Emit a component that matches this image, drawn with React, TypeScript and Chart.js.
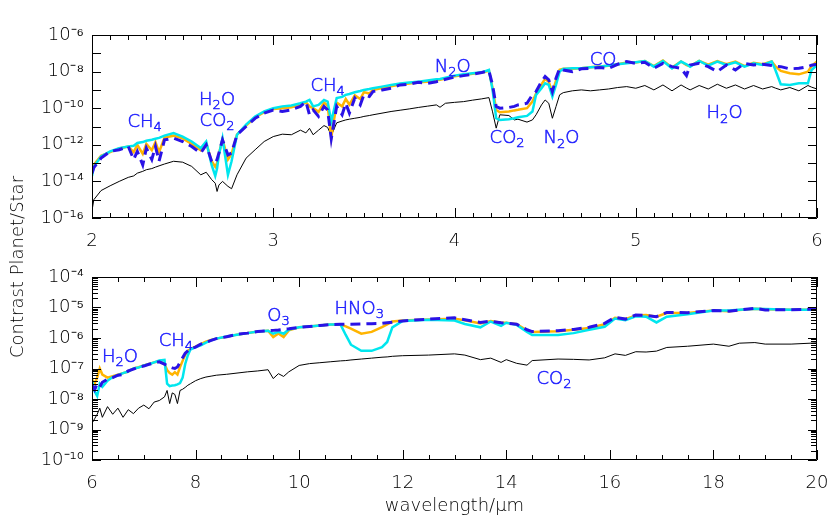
import React, { useEffect, useRef } from "react";
import { Chart, registerables } from "chart.js";

Chart.register(...registerables);

const FONT_FAMILY = "'DejaVu Sans', 'Liberation Sans', Arial, sans-serif";
const FONT_WEIGHT = "200";
const BLACK = "#000000";
const ORANGE = "#FFB400";
const CYAN = "#00E6EE";
const BLUE = "#2A12E6";
const NOTE_BLUE = "#2020FF";

// ---------------- top panel: 2–6 µm (values are log10 of contrast) ----------------
const topWavelength = [
  2.0, 2.01, 2.05, 2.1, 2.15, 2.2, 2.23, 2.25, 2.28, 2.3,
  2.33, 2.35, 2.37, 2.4, 2.45, 2.5, 2.55, 2.6, 2.63, 2.66,
  2.68, 2.69, 2.7, 2.72, 2.75, 2.77, 2.8, 2.85, 2.9, 2.95,
  3.0, 3.05, 3.1, 3.15, 3.18, 3.2, 3.22, 3.25, 3.28, 3.3,
  3.32, 3.35, 3.38, 3.4, 3.42, 3.45, 3.48, 3.5, 3.53, 3.55,
  3.6, 3.65, 3.7, 3.75, 3.8, 3.85, 3.9, 3.92, 3.95, 4.0,
  4.05, 4.1, 4.15, 4.19, 4.21, 4.23, 4.25, 4.3, 4.33, 4.35,
  4.4, 4.43, 4.45, 4.48, 4.5, 4.52, 4.54, 4.56, 4.58, 4.6,
  4.65, 4.7, 4.75, 4.8, 4.85, 4.9, 4.95, 5.0, 5.05, 5.1,
  5.15, 5.2, 5.25, 5.28, 5.3, 5.35, 5.4, 5.45, 5.5, 5.55,
  5.6, 5.65, 5.7, 5.75, 5.77, 5.8, 5.85, 5.9, 5.95, 5.97,
  6.0,
];
const topBlackLog = [
  -15.6, -15.0, -14.5, -14.24, -14.0, -13.78, -13.7, -13.55, -13.45, -13.36,
  -13.3, -13.22, -13.15, -13.05, -12.9, -12.95, -13.18, -13.64, -13.5, -13.9,
  -14.1, -14.55, -14.2, -14.0, -14.27, -14.4, -13.64, -12.73, -12.27, -11.82,
  -11.55, -11.42, -11.45, -11.2, -11.35, -11.1, -11.45, -11.2, -10.95, -11.05,
  -11.5, -10.8, -10.7, -10.64, -10.6, -10.55, -10.5, -10.45, -10.4, -10.36,
  -10.27, -10.18, -10.11, -10.04, -9.96, -9.89, -9.82, -9.95, -9.73, -9.68,
  -9.64, -9.56, -9.49, -9.42, -10.2, -11.09, -10.36, -10.4, -10.64, -10.6,
  -10.76, -10.64, -10.36, -9.82, -9.55, -9.73, -10.55, -9.91, -9.27, -9.15,
  -9.05, -9.0, -9.05, -9.0, -8.95, -8.87, -8.82, -8.91, -8.76, -9.0,
  -8.73, -9.05, -8.73, -8.9, -9.0, -8.76, -8.95, -8.69, -8.91, -8.73,
  -8.95, -8.76, -8.95, -8.82, -8.9, -9.0, -8.87, -9.05, -8.76, -8.85,
  -8.95,
];
const topCyanLog = [
  -13.7, -13.2, -12.64, -12.36, -12.18, -12.09, -12.05, -11.9, -11.85, -11.78,
  -11.72, -11.67, -11.62, -11.5, -11.36, -11.55, -11.82, -12.18, -11.82, -13.1,
  -13.7, -13.3, -12.55, -11.64, -13.64, -12.9, -11.45, -10.9, -10.45, -10.18,
  -10.0, -9.9, -9.85, -9.73, -9.64, -9.55, -9.9, -9.82, -9.55, -9.64,
  -10.73, -9.45, -9.38, -9.27, -9.22, -9.13, -9.06, -9.0, -8.95, -8.91,
  -8.82, -8.73, -8.65, -8.6, -8.55, -8.49, -8.42, -8.4, -8.33, -8.22,
  -8.15, -8.09, -8.04, -7.91, -9.0, -10.55, -10.64, -10.6, -10.55, -10.5,
  -10.42, -10.18, -9.27, -8.91, -8.64, -8.73, -9.36, -8.73, -8.0, -7.85,
  -7.82, -7.82, -7.76, -7.73, -7.67, -7.6, -7.55, -7.49, -7.42, -7.73,
  -7.42, -7.82, -7.45, -7.6, -7.73, -7.42, -7.67, -7.45, -7.64, -7.49,
  -7.73, -7.55, -7.64, -7.45, -7.9, -8.69, -8.73, -8.64, -8.64, -7.91,
  -7.64,
];
const topOrangeLog = [
  -13.5, -13.1, -12.6, -12.4, -12.2, -12.1, -12.4, -12.0, -12.5, -11.95,
  -12.3, -11.85, -12.4, -11.6, -11.5, -11.65, -11.95, -12.3, -11.9, -12.9,
  -13.2, -13.0, -12.5, -11.7, -12.8, -12.5, -11.45, -10.95, -10.5, -10.22,
  -10.05, -10.0, -9.95, -9.8, -9.68, -9.9, -10.0, -10.2, -9.7, -9.85,
  -11.6, -9.7, -9.9, -9.5, -9.8, -9.3, -9.5, -9.12, -9.2, -9.0,
  -8.9, -8.8, -8.7, -8.65, -8.58, -8.55, -8.48, -8.45, -8.38, -8.26,
  -8.18, -8.12, -8.05, -7.95, -8.9, -10.1, -10.22, -10.18, -10.12, -10.09,
  -10.0, -9.64, -9.2, -8.7, -8.4, -8.55, -9.15, -8.5, -7.9, -7.85,
  -7.85, -7.82, -7.76, -7.72, -7.68, -7.6, -7.5, -7.5, -7.42, -7.7,
  -7.4, -7.78, -7.45, -7.65, -7.7, -7.42, -7.62, -7.42, -7.6, -7.45,
  -7.7, -7.52, -7.6, -7.45, -7.7, -7.96, -8.09, -8.15, -8.0, -7.7,
  -7.45,
];
const topBlueLog = [
  -13.55, -13.25, -12.73, -12.36, -12.27, -12.09, -12.8, -12.36, -13.1, -12.18,
  -12.8, -12.09, -12.9, -11.73, -11.64, -11.82, -12.09, -12.45, -12.0, -12.9,
  -13.0, -12.8, -12.45, -11.73, -12.55, -12.45, -11.45, -11.0, -10.55, -10.27,
  -10.1, -10.18, -10.09, -9.9, -9.64, -10.36, -10.09, -10.45, -9.9, -10.09,
  -11.67, -9.9, -10.36, -9.73, -10.27, -9.45, -9.82, -9.27, -9.36, -9.09,
  -9.0, -8.91, -8.73, -8.69, -8.58, -8.64, -8.55, -8.5, -8.42, -8.3,
  -8.22, -8.15, -8.05, -7.96, -8.73, -9.91, -10.0, -9.96, -9.9, -9.82,
  -9.73, -9.27, -9.09, -8.55, -8.27, -8.45, -9.09, -8.36, -7.82, -7.91,
  -8.0, -7.85, -7.82, -7.78, -7.82, -7.6, -7.45, -7.55, -7.49, -7.82,
  -7.55, -7.73, -7.82, -8.22, -7.64, -7.55, -7.73, -8.0, -7.64, -7.91,
  -7.55, -7.64, -7.6, -7.67, -7.7, -7.73, -7.85, -7.82, -7.73, -7.65,
  -7.6,
];
const topXTickLabels = [2, 3, 4, 5, 6];
const topYExponents = [-16, -15, -14, -13, -12, -11, -10, -9, -8, -7, -6];
const topYLabelExponents = [-16, -14, -12, -10, -8, -6];
const topNoteText = ["CH_4", "H_2O", "CO_2", "CH_4", "N_2O", "CO_2", "N_2O", "CO", "H_2O"];
const topNoteX = [2.29, 2.69, 2.69, 3.3, 3.99, 4.29, 4.59, 4.82, 5.49];
const topNoteY = [-10.75, -9.55, -10.7, -8.79, -7.75, -11.63, -11.66, -7.37, -10.27];

// ---------------- bottom panel: 6–20 µm (values are log10 of contrast) ----------------
const botWavelength = [
  6.0, 6.05, 6.1, 6.15, 6.2, 6.3, 6.4, 6.5, 6.6, 6.7,
  6.8, 6.9, 7.0, 7.1, 7.2, 7.3, 7.4, 7.45, 7.5, 7.55,
  7.6, 7.65, 7.7, 7.75, 7.8, 7.85, 7.9, 8.0, 8.1, 8.2,
  8.3, 8.4, 8.6, 8.8, 9.0, 9.2, 9.4, 9.5, 9.6, 9.7,
  9.8, 10.0, 10.2, 10.4, 10.6, 10.8, 10.9, 11.0, 11.2, 11.4,
  11.6, 11.7, 11.8, 12.0, 12.5, 13.0, 13.2, 13.5, 13.7, 13.9,
  14.0, 14.2, 14.4, 14.5, 15.0, 15.3, 15.6, 15.9, 16.1, 16.3,
  16.5, 16.7, 16.9, 17.1, 17.5, 18.0, 18.3, 18.5, 18.8, 19.0,
  19.5, 20.0,
];
const botBlackLog = [
  -8.8, -8.65, -8.5, -8.3, -8.6, -8.25, -8.5, -8.3, -8.6, -8.35,
  -8.48, -8.3, -8.2, -8.32, -8.1, -8.05, -7.93, -7.72, -8.15, -7.8,
  -7.85, -8.15, -7.72, -7.68, -7.62, -7.55, -7.5, -7.4, -7.33, -7.28,
  -7.25, -7.22, -7.19, -7.15, -7.11, -7.08, -7.04, -7.33, -7.17, -7.26,
  -7.11, -6.9, -6.84, -6.81, -6.78, -6.75, -6.74, -6.72, -6.69, -6.66,
  -6.63, -6.62, -6.6, -6.58, -6.56, -6.52, -6.56, -6.71, -6.66, -6.8,
  -6.71, -6.83, -6.89, -6.74, -6.69, -6.7, -6.72, -6.65, -6.52, -6.57,
  -6.45, -6.46, -6.43, -6.31, -6.27, -6.2, -6.27, -6.17, -6.15, -6.2,
  -6.2, -6.16,
];
const botCyanLog = [
  -7.4, -7.75, -7.9, -7.5, -7.6, -7.4, -7.28, -7.22, -7.15, -7.1,
  -7.0, -6.97, -6.9, -6.86, -6.8, -6.74, -6.72, -7.5, -7.58, -7.56,
  -7.55, -7.52, -7.48, -7.3, -6.85, -6.57, -6.38, -6.3, -6.24, -6.15,
  -6.08, -6.02, -5.95, -5.89, -5.84, -5.79, -5.76, -5.86, -5.8, -5.86,
  -5.72, -5.65, -5.62, -5.59, -5.56, -5.56, -5.9, -6.22, -6.42, -6.42,
  -6.3, -6.13, -5.65, -5.44, -5.4, -5.43, -5.54, -5.65, -5.46, -5.6,
  -5.5, -5.57, -5.8, -5.9, -5.9, -5.84, -5.73, -5.63, -5.36, -5.42,
  -5.29, -5.3, -5.49, -5.3, -5.22, -5.1, -5.1, -5.07, -5.04, -5.05,
  -5.07, -5.07,
];
const botOrangeLog = [
  -7.35, -7.5, -7.3, -7.0, -7.2, -7.3, -7.25, -7.2, -7.15, -7.1,
  -7.0, -6.96, -6.9, -6.85, -6.8, -6.76, -6.85, -7.05, -7.15, -7.2,
  -7.12, -7.2, -6.95, -6.75, -6.55, -6.42, -6.36, -6.28, -6.2, -6.12,
  -6.06, -6.02, -5.96, -5.89, -5.84, -5.79, -5.76, -5.97, -5.85, -5.97,
  -5.75, -5.65, -5.62, -5.59, -5.56, -5.56, -5.62, -5.69, -5.86, -5.8,
  -5.64, -5.55, -5.46, -5.43, -5.39, -5.37, -5.42, -5.52, -5.44, -5.5,
  -5.5, -5.55, -5.75, -5.8, -5.78, -5.73, -5.67, -5.55, -5.34, -5.38,
  -5.26, -5.25, -5.3, -5.18, -5.18, -5.1, -5.12, -5.08, -5.04, -5.06,
  -5.07, -5.07,
];
const botBlueLog = [
  -7.55, -7.7, -7.5, -7.6, -7.45, -7.35, -7.3, -7.22, -7.2, -7.08,
  -7.02, -6.95, -6.92, -6.86, -6.82, -6.78, -6.86, -6.9, -6.95, -6.98,
  -7.0, -6.95, -6.8, -6.65, -6.5, -6.42, -6.35, -6.3, -6.2, -6.14,
  -6.08, -6.02, -5.96, -5.88, -5.84, -5.79, -5.76, -5.75, -5.74, -5.72,
  -5.7, -5.65, -5.62, -5.59, -5.56, -5.55, -5.55, -5.55, -5.54, -5.53,
  -5.52, -5.5, -5.48, -5.44, -5.38, -5.34, -5.4, -5.49, -5.45, -5.5,
  -5.51, -5.55, -5.73, -5.79, -5.76, -5.72, -5.65, -5.52, -5.32, -5.38,
  -5.25, -5.26, -5.3, -5.16, -5.17, -5.1, -5.12, -5.08, -5.03, -5.08,
  -5.07, -5.05,
];
const botXTickLabels = [6, 8, 10, 12, 14, 16, 18, 20];
const botYExponents = [-10, -9, -8, -7, -6, -5, -4];
const botYLabelExponents = [-10, -9, -8, -7, -6, -5, -4];
const botNoteText = ["H_2O", "CH_4", "O_3", "HNO_3", "CO_2"];
const botNoteX = [6.54, 7.62, 9.6, 11.16, 14.92];
const botNoteY = [-6.62, -6.1, -5.28, -5.05, -7.34];

const SUP: Record<string, string> = {
  "-": "\u207B", "0": "\u2070", "1": "\u00B9", "2": "\u00B2", "3": "\u00B3",
  "4": "\u2074", "5": "\u2075", "6": "\u2076", "7": "\u2077", "8": "\u2078", "9": "\u2079",
};
const pow10Label = (e: number) => "10" + String(e).split("").map((c) => SUP[c] || c).join("");

const frameTicksPlugin = {
  id: "frameTicks",
  afterDatasetsDraw(chart: any, _args: any, opts: any) {
    const { ctx, chartArea: a } = chart;
    const xs = chart.scales.x;
    const ys = chart.scales.y;
    ctx.save();
    ctx.strokeStyle = "#000";
    ctx.lineWidth = 1;
    ctx.beginPath();
    ctx.rect(Math.round(a.left) + 0.5, Math.round(a.top) + 0.5, Math.round(a.right - a.left) - 1, Math.round(a.bottom - a.top) - 1);
    const n = Math.round((opts.xMax - opts.xMin) / opts.xMinor);
    for (let i = 0; i <= n; i++) {
      const v = opts.xMin + i * opts.xMinor;
      const r = v / opts.xMajor;
      const major = Math.abs(r - Math.round(r)) < 1e-6;
      const len = major ? 10 : 5;
      const px = Math.round(xs.getPixelForValue(v)) + 0.5;
      ctx.moveTo(px, a.bottom);
      ctx.lineTo(px, a.bottom - len);
      ctx.moveTo(px, a.top);
      ctx.lineTo(px, a.top + len);
    }
    const exps: number[] = opts.yExps;
    exps.forEach((e: number, idx: number) => {
      const py = Math.round(ys.getPixelForValue(Math.pow(10, e))) + 0.5;
      ctx.moveTo(a.left, py);
      ctx.lineTo(a.left + 9, py);
      ctx.moveTo(a.right, py);
      ctx.lineTo(a.right - 9, py);
      if (opts.yMinor && idx < exps.length - 1) {
        for (let k = 2; k <= 9; k++) {
          const pm = Math.round(ys.getPixelForValue(k * Math.pow(10, e))) + 0.5;
          ctx.moveTo(a.left, pm);
          ctx.lineTo(a.left + 6, pm);
          ctx.moveTo(a.right, pm);
          ctx.lineTo(a.right - 6, pm);
        }
      }
    });
    ctx.stroke();
    ctx.restore();
  },
};

const notesPlugin = {
  id: "notes",
  afterDatasetsDraw(chart: any, _args: any, opts: any) {
    const { ctx } = chart;
    const xs = chart.scales.x;
    const ys = chart.scales.y;
    const mainFont = `${FONT_WEIGHT} 18px ${FONT_FAMILY}`;
    const subFont = `${FONT_WEIGHT} 13px ${FONT_FAMILY}`;
    ctx.save();
    ctx.fillStyle = NOTE_BLUE;
    ctx.strokeStyle = NOTE_BLUE;
    ctx.lineWidth = 0.5;
    ctx.textBaseline = "middle";
    ctx.textAlign = "left";
    (opts.text as string[]).forEach((t, i) => {
      const parts = t.split(/_(\d)/);
      const segs = parts.map((s, j) => ({ s, sub: j % 2 === 1 })).filter((p) => p.s.length > 0);
      let total = 0;
      const widths = segs.map((sg) => {
        ctx.font = sg.sub ? subFont : mainFont;
        const w = ctx.measureText(sg.s).width;
        total += w;
        return w;
      });
      const px = xs.getPixelForValue(opts.x[i]);
      const py = ys.getPixelForValue(Math.pow(10, opts.y[i]));
      let x = px - total / 2;
      segs.forEach((sg, j) => {
        ctx.font = sg.sub ? subFont : mainFont;
        const yy = sg.sub ? py + 6 : py;
        ctx.fillText(sg.s, x, yy);
        ctx.strokeText(sg.s, x, yy);
        x += widths[j];
      });
    });
    ctx.restore();
  },
};

interface PanelCfg {
  wavelength: number[];
  black: number[];
  orange: number[];
  cyan: number[];
  blue: number[];
  xMin: number;
  xMax: number;
  xMinor: number;
  xMajor: number;
  xLabels: number[];
  yExps: number[];
  yLabelExps: number[];
  yMinor: boolean;
  padTop: number;
  xAxisHeight: number;
  xTickPad: number;
  title?: string;
  noteText: string[];
  noteX: number[];
  noteY: number[];
}

function buildChart(canvas: HTMLCanvasElement, c: PanelCfg) {
  const pts = (logs: number[]) => c.wavelength.map((w, i) => ({ x: w, y: Math.pow(10, logs[i]) }));
  const tickFont = { family: FONT_FAMILY, size: 18, weight: FONT_WEIGHT };
  return new Chart(canvas, {
    type: "line",
    data: {
      datasets: [
        { label: "blue", data: pts(c.blue), borderColor: BLUE, borderWidth: 3, borderDash: [10, 6], pointRadius: 0, fill: false, tension: 0 },
        { label: "cyan", data: pts(c.cyan), borderColor: CYAN, borderWidth: 2.5, pointRadius: 0, fill: false, tension: 0 },
        { label: "orange", data: pts(c.orange), borderColor: ORANGE, borderWidth: 2.5, pointRadius: 0, fill: false, tension: 0 },
        { label: "black", data: pts(c.black), borderColor: BLACK, borderWidth: 1, pointRadius: 0, fill: false, tension: 0 },
      ],
    },
    options: {
      animation: false,
      responsive: false,
      devicePixelRatio: 1,
      events: [],
      layout: { padding: { left: 0, right: 13, top: c.padTop, bottom: 0 } },
      plugins: {
        legend: { display: false },
        tooltip: { enabled: false },
        frameTicks: { xMin: c.xMin, xMax: c.xMax, xMinor: c.xMinor, xMajor: c.xMajor, yExps: c.yExps, yMinor: c.yMinor },
        notes: { text: c.noteText, x: c.noteX, y: c.noteY },
      } as any,
      scales: {
        x: {
          type: "linear",
          min: c.xMin,
          max: c.xMax,
          afterBuildTicks: (s: any) => {
            s.ticks = c.xLabels.map((v) => ({ value: v }));
          },
          afterFit: (s: any) => {
            s.height = c.xAxisHeight;
            s.paddingLeft = 0;
            s.paddingRight = 0;
          },
          ticks: {
            autoSkip: false,
            maxRotation: 0,
            padding: c.xTickPad,
            color: "#000",
            font: tickFont,
            callback: (v: any) => String(v),
          },
          grid: { display: false, drawTicks: false },
          border: { display: false },
          title: c.title
            ? { display: true, text: c.title, color: "#000", font: tickFont, padding: { top: 0, bottom: 2 } }
            : { display: false },
        },
        y: {
          type: "logarithmic",
          min: Math.pow(10, c.yExps[0]),
          max: Math.pow(10, c.yExps[c.yExps.length - 1]),
          afterBuildTicks: (s: any) => {
            s.ticks = c.yExps.map((e) => ({ value: Math.pow(10, e) }));
          },
          afterFit: (s: any) => {
            s.width = 92;
            s.paddingTop = 0;
            s.paddingBottom = 0;
          },
          ticks: {
            autoSkip: false,
            padding: 8,
            color: "#000",
            font: tickFont,
            callback: (v: any) => {
              const e = Math.round(Math.log10(Number(v)));
              return c.yLabelExps.includes(e) ? pow10Label(e) : "";
            },
          },
          grid: { display: false, drawTicks: false },
          border: { display: false },
        },
      },
    } as any,
    plugins: [frameTicksPlugin, notesPlugin],
  });
}

export default function App() {
  const topRef = useRef<HTMLCanvasElement>(null);
  const botRef = useRef<HTMLCanvasElement>(null);

  useEffect(() => {
    const top = buildChart(topRef.current!, {
      wavelength: topWavelength,
      black: topBlackLog,
      orange: topOrangeLog,
      cyan: topCyanLog,
      blue: topBlueLog,
      xMin: 2,
      xMax: 6,
      xMinor: 0.1,
      xMajor: 1,
      xLabels: topXTickLabels,
      yExps: topYExponents,
      yLabelExps: topYLabelExponents,
      yMinor: false,
      padTop: 35,
      xAxisHeight: 42,
      xTickPad: 13,
      noteText: topNoteText,
      noteX: topNoteX,
      noteY: topNoteY,
    });
    const bot = buildChart(botRef.current!, {
      wavelength: botWavelength,
      black: botBlackLog,
      orange: botOrangeLog,
      cyan: botCyanLog,
      blue: botBlueLog,
      xMin: 6,
      xMax: 20,
      xMinor: 0.5,
      xMajor: 2,
      xLabels: botXTickLabels,
      yExps: botYExponents,
      yLabelExps: botYLabelExponents,
      yMinor: true,
      padTop: 17,
      xAxisHeight: 59,
      xTickPad: 13,
      title: "wavelength/\u03BCm",
      noteText: botNoteText,
      noteX: botNoteX,
      noteY: botNoteY,
    });
    return () => {
      top.destroy();
      bot.destroy();
    };
  }, []);

  return (
    <div
      style={{
        position: "fixed",
        left: 0,
        top: 0,
        width: 830,
        height: 519,
        background: "#fff",
        fontFamily: FONT_FAMILY,
        overflow: "hidden",
      }}
    >
      <canvas ref={topRef} width={830} height={260} style={{ position: "absolute", left: 0, top: 0 }} />
      <canvas ref={botRef} width={830} height={259} style={{ position: "absolute", left: 0, top: 260 }} />
      <div
        style={{
          position: "absolute",
          left: 17,
          top: 267,
          transform: "translate(-50%, -50%) rotate(-90deg)",
          fontSize: 18,
          fontWeight: 200,
          color: "#000",
          whiteSpace: "nowrap",
          lineHeight: 1,
        }}
      >
        Contrast Planet/Star
      </div>
    </div>
  );
}
